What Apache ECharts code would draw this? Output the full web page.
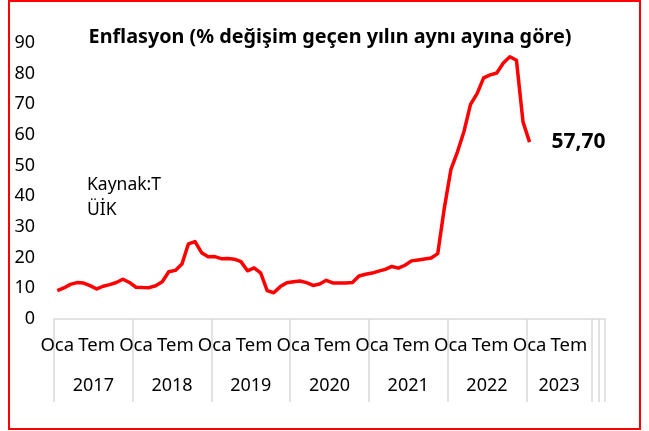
<!DOCTYPE html>
<html>
<head>
<meta charset="utf-8">
<script src="https://cdn.jsdelivr.net/npm/echarts@6/dist/echarts.min.js"></script>
<style>
  html, body { margin: 0; padding: 0; background: #fff; }
  #chart { width: 649px; height: 431px; }
</style>
</head>
<body>
<div id="chart"></div>
<script>
// yıllık TÜFE değişimi, Oca 2017 - Oca 2023
const monthNames = ['Oca', 'Şub', 'Mar', 'Nis', 'May', 'Haz', 'Tem', 'Ağu', 'Eyl', 'Eki', 'Kas', 'Ara'];
const years = ['2017', '2018', '2019', '2020', '2021', '2022', '2023'];
const inflation = [
  9.22, 10.13, 11.29, 11.87, 11.72, 10.90, 9.79, 10.68, 11.20, 11.90, 12.98, 11.92,
  10.35, 10.26, 10.23, 10.85, 12.15, 15.39, 15.85, 17.90, 24.52, 25.24, 21.62, 20.30,
  20.35, 19.67, 19.71, 19.50, 18.71, 15.72, 16.65, 15.01, 9.26, 8.55, 10.56, 11.84,
  12.15, 12.37, 11.86, 10.94, 11.39, 12.62, 11.76, 11.77, 11.75, 11.89, 14.03, 14.60,
  14.97, 15.61, 16.19, 17.14, 16.59, 17.53, 18.95, 19.25, 19.58, 19.89, 21.31, 36.08,
  48.69, 54.44, 61.14, 69.97, 73.50, 78.62, 79.60, 80.21, 83.45, 85.51, 84.39, 64.27,
  57.68
];
const lastLabel = '57,70';
const monthCount = 84;              // eksen 2023 sonrasına kadar uzanıyor
const yearBreaks = [0, 12, 24, 36, 48, 60, 72, 82, 83, 84];
const yearCenters = [6, 18, 30, 42, 54, 66, 77];

const categories = [];
for (let i = 0; i < monthCount; i++) categories.push(monthNames[i % 12]);

const font = '"Noto Sans", sans-serif';
const chart = echarts.init(document.getElementById('chart'));

chart.setOption({
  animation: false,
  backgroundColor: '#fff',
  textStyle: { fontFamily: font },
  title: {
    text: 'Enflasyon (% değişim geçen yılın aynı ayına göre)',
    left: 325,
    top: 22,
    textAlign: 'center',
    textStyle: { fontFamily: font, fontSize: 19.8, fontWeight: 'bold', color: '#000' }
  },
  graphic: [
    {
      type: 'rect',
      shape: { x: 9, y: 1, width: 631, height: 428 },
      style: { fill: 'none', stroke: '#ff0000', lineWidth: 2 },
      silent: true
    },
    {
      type: 'text',
      left: 87,
      top: 173,
      style: { text: 'Kaynak:T\nÜİK', font: '17.5px "Noto Sans"', fill: '#000', lineHeight: 25 }
    }
  ],
  grid: { left: 54, right: 44, top: 43, bottom: 112, containLabel: false },
  xAxis: [
    {
      type: 'category',
      data: categories,
      boundaryGap: true,
      axisLine: { show: true, lineStyle: { color: '#d9d9d9', width: 1.5 } },
      axisTick: { show: false },
      splitLine: { show: false },
      axisLabel: {
        interval: (idx) => idx % 6 === 0,
        margin: 17,
        fontSize: 18.5,
        color: '#000',
        fontFamily: font
      }
    },
    {
      type: 'value',
      min: 0,
      max: monthCount,
      position: 'bottom',
      axisLine: { show: false },
      splitLine: { show: false },
      axisTick: {
        show: true,
        customValues: yearBreaks,
        length: 83,
        lineStyle: { color: '#d9d9d9', width: 1.5 }
      },
      axisLabel: {
        customValues: yearCenters,
        formatter: (v) => years[yearCenters.indexOf(v)],
        margin: 58,
        fontSize: 18,
        color: '#000',
        fontFamily: font
      }
    }
  ],
  yAxis: {
    type: 'value',
    min: 0,
    max: 90,
    interval: 10,
    axisLine: { show: false },
    axisTick: { show: false },
    splitLine: { show: false },
    axisLabel: { margin: 19, fontSize: 18, color: '#000', fontFamily: font }
  },
  series: [
    {
      type: 'line',
      xAxisIndex: 0,
      data: inflation,
      showSymbol: false,
      symbol: 'none',
      lineStyle: { color: '#ff0000', width: 3.5, join: 'round' },
      endLabel: {
        show: true,
        formatter: lastLabel,
        distance: 22,
        fontSize: 21,
        fontWeight: 'bold',
        color: '#000',
        fontFamily: font
      }
    }
  ]
});
</script>
</body>
</html>
